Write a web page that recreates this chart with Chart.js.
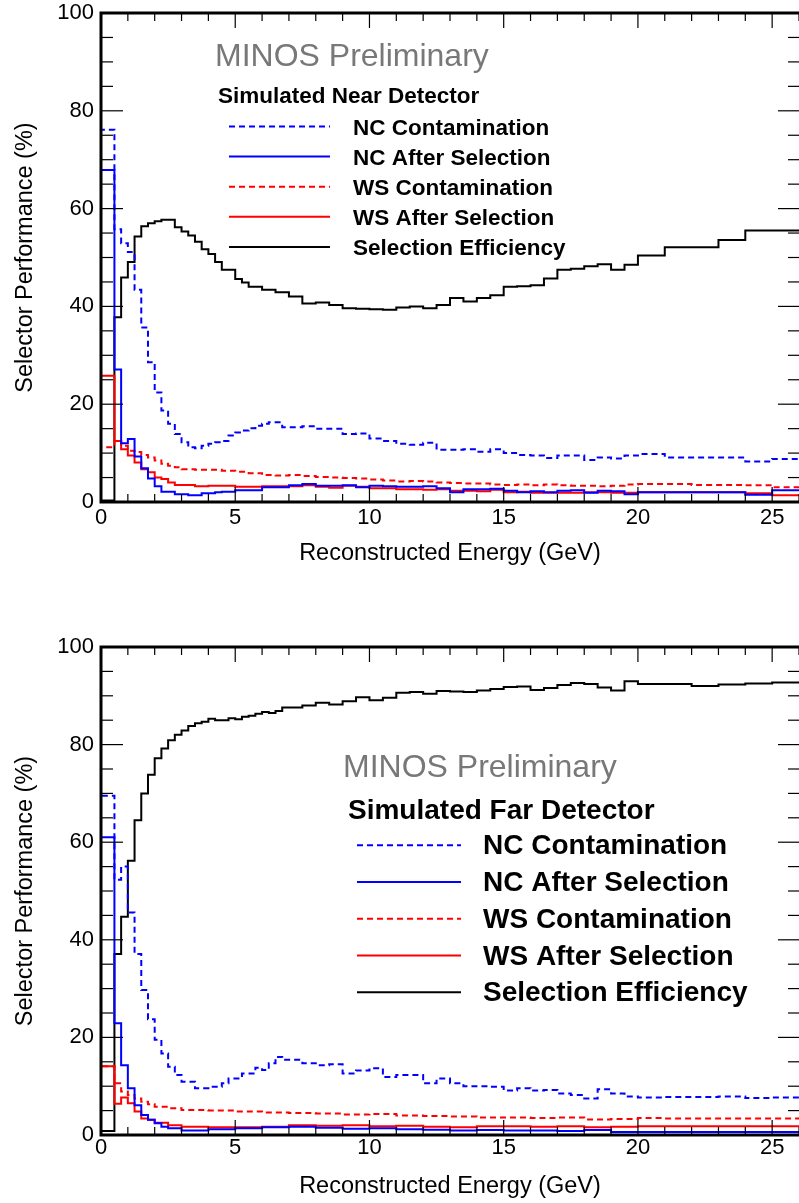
<!DOCTYPE html>
<html>
<head>
<meta charset="utf-8">
<script src="https://cdn.jsdelivr.net/npm/chart.js@4.4.1/dist/chart.umd.min.js"></script>
<style>
  body { margin: 0; background: #fff; }
  canvas { position: absolute; left: 0; }
  #nearChart { top: 0; }
  #farChart { top: 600px; }
</style>
</head>
<body>
<canvas id="nearChart" width="799" height="600"></canvas>
<canvas id="farChart" width="799" height="603"></canvas>
<script>
const FONT = '"Liberation Sans", Arial, Helvetica, sans-serif';

// bin edges (GeV), variable width like the ROOT histos
const binEdges = [0, 0.5, 0.75, 1, 1.25, 1.5, 1.75, 2, 2.25, 2.5, 2.75, 3, 3.25, 3.5, 3.75, 4,
  4.25, 4.5, 4.75, 5, 5.25, 5.5, 5.75, 6, 6.25, 6.5, 6.75, 7, 7.5, 8, 8.5, 9, 9.5, 10, 10.5,
  11, 11.5, 12, 12.5, 13, 13.5, 14, 14.5, 15, 15.5, 16, 16.5, 17, 17.5, 18, 18.5, 19, 19.5,
  20, 21, 22, 23, 24, 25, 26];

// ---- Near detector (%) ----
const nearNcCont = [76.1, 55.8, 52.9, 51.1, 43.4, 35.7, 28.6, 22.4, 18.7, 16.0, 13.9, 12.2, 11.2, 11.0,
  11.5, 11.9, 12.2, 12.5, 13.6, 14.2, 14.6, 15.1, 15.6, 16.0, 16.3, 16.3, 15.3,
  15.3, 15.5, 15.0, 15.0, 13.9, 14.0, 13.0, 12.5, 11.9, 11.7, 12.1, 10.7, 10.7, 10.8, 10.3, 10.8,
  10.0, 9.6, 9.5, 9.0, 9.5, 9.5, 8.6, 9.1, 8.9, 9.5,
  9.8, 9.1, 9.1, 9.1, 8.3, 8.8];
const nearNcSel = [67.9, 27.1, 12.0, 12.9, 9.3, 6.9, 4.8, 3.2, 2.1, 2.1, 1.6, 1.6, 1.4, 1.4,
  1.8, 1.8, 2.0, 2.1, 2.1, 2.4, 2.4, 2.4, 2.4, 3.0, 3.0, 3.0, 3.0,
  3.4, 3.7, 3.3, 3.3, 3.4, 3.0, 3.3, 3.2, 3.1, 3.1, 3.2, 2.8, 2.0, 2.6, 2.6, 2.7,
  2.3, 2.0, 2.2, 2.0, 2.3, 2.4, 1.9, 2.3, 2.2, 1.6,
  2.0, 2.0, 2.0, 2.0, 1.5, 2.4];
const nearWsCont = [11.2, 12.5, 11.5, 10.5, 10.2, 9.6, 9.1, 8.5, 7.8, 7.4, 7.1, 6.7, 6.7, 6.6,
  6.6, 6.6, 6.6, 6.4, 6.4, 6.2, 6.2, 5.9, 5.9, 5.5, 5.5, 5.4, 5.4,
  5.5, 5.3, 5.1, 5.0, 4.9, 4.8, 4.6, 4.4, 4.2, 4.3, 4.2, 4.0, 3.9, 3.8, 3.8, 3.6,
  3.5, 3.6, 3.4, 3.6, 3.4, 3.3, 3.3, 3.2, 3.3, 3.6,
  3.7, 3.7, 3.5, 3.5, 3.4, 3.0];
const nearWsSel = [25.8, 12.5, 10.8, 9.5, 8.1, 6.7, 6.1, 5.0, 4.7, 4.0, 3.5, 3.5, 3.5, 3.2,
  3.2, 3.3, 3.3, 3.3, 3.3, 3.1, 3.1, 3.1, 3.1, 3.2, 3.2, 3.2, 3.2,
  3.2, 3.4, 3.1, 2.9, 3.3, 3.1, 2.8, 2.8, 2.6, 2.6, 2.5, 2.6, 2.3, 2.3, 2.2, 2.5,
  2.0, 2.1, 1.9, 1.9, 1.9, 1.9, 2.0, 2.0, 1.9, 1.9,
  2.0, 2.0, 2.0, 2.0, 1.8, 1.4];
const nearEff = [0.3, 37.8, 45.9, 49.1, 54.3, 56.4, 57.0, 57.4, 57.7, 57.7, 56.2, 55.3, 54.5, 53.2,
  51.7, 50.7, 49.1, 47.5, 47.5, 45.6, 44.9, 44.0, 44.0, 43.4, 43.4, 42.9, 42.9,
  42.0, 40.6, 40.8, 40.3, 39.6, 39.5, 39.4, 39.3, 39.8, 40.0, 39.6, 40.3, 41.7, 41.0, 41.7, 42.3,
  44.0, 44.1, 44.3, 45.7, 47.5, 47.7, 48.2, 48.6, 47.5, 48.5,
  50.4, 52.1, 52.1, 53.6, 55.5, 55.5];

// ---- Far detector (%) ----
const farNcCont = [69.5, 52.3, 55.0, 45.6, 37.1, 29.7, 23.7, 19.5, 16.7, 14.0, 12.3, 10.9, 10.9, 9.6,
  9.6, 9.9, 9.9, 10.6, 11.6, 11.6, 12.6, 12.6, 13.8, 13.3, 14.7, 16.0, 15.4,
  15.4, 14.7, 14.3, 14.5, 12.6, 13.2, 13.7, 11.9, 12.3, 12.3, 10.6, 11.6, 10.6, 10.0, 10.0, 9.9,
  9.1, 9.6, 9.1, 9.2, 8.5, 8.2, 7.5, 9.4, 8.5, 7.9,
  7.7, 7.8, 7.8, 7.9, 7.6, 7.7];
const farNcSel = [61.0, 22.9, 14.3, 9.6, 6.1, 4.1, 3.1, 2.4, 1.7, 1.4, 1.4, 0.9, 0.9, 0.9,
  0.9, 1.2, 1.2, 1.2, 1.2, 1.4, 1.4, 1.4, 1.4, 1.6, 1.6, 1.6, 1.6,
  1.7, 1.7, 1.5, 1.5, 1.3, 1.3, 1.4, 1.4, 1.2, 1.2, 1.1, 1.1, 0.9, 0.9, 1.0, 1.0,
  0.9, 0.9, 0.9, 0.9, 0.8, 0.8, 1.0, 1.0, 0.6, 0.6,
  0.6, 0.6, 0.6, 0.6, 0.6, 0.6];
const farWsCont = [14.1, 10.6, 8.9, 8.2, 7.5, 6.8, 6.3, 5.8, 5.8, 5.5, 5.5, 5.1, 5.1, 5.1,
  5.1, 5.0, 5.0, 5.0, 5.0, 4.8, 4.8, 4.8, 4.8, 4.6, 4.6, 4.6, 4.6,
  4.5, 4.5, 4.4, 4.4, 4.2, 4.2, 4.3, 4.3, 4.0, 4.0, 3.9, 3.9, 3.8, 3.8, 3.6, 3.6,
  3.6, 3.6, 3.5, 3.5, 3.6, 3.6, 3.2, 3.2, 3.3, 3.3,
  3.5, 3.4, 3.4, 3.4, 3.4, 3.4];
const farWsSel = [14.1, 6.4, 7.7, 6.5, 4.8, 3.4, 3.1, 2.5, 2.5, 2.0, 2.0, 1.7, 1.7, 1.7,
  1.7, 1.6, 1.6, 1.6, 1.6, 1.6, 1.6, 1.6, 1.6, 1.7, 1.7, 1.7, 1.7,
  2.0, 2.0, 1.9, 1.9, 2.0, 2.0, 1.8, 1.8, 1.9, 1.9, 1.7, 1.7, 1.6, 1.6, 1.8, 1.8,
  1.8, 1.8, 1.7, 1.7, 1.8, 1.8, 1.6, 1.6, 1.7, 1.7,
  1.8, 1.8, 1.8, 1.8, 1.8, 1.8];
const farEff = [0.8, 37.1, 44.7, 56.2, 64.5, 70.0, 73.8, 77.2, 79.2, 80.9, 82.0, 82.9, 83.8, 84.4,
  84.7, 85.3, 85.0, 85.0, 85.4, 85.2, 85.7, 85.9, 86.3, 86.7, 86.5, 86.9, 87.6,
  87.6, 88.0, 88.6, 88.2, 88.9, 89.7, 89.1, 89.6, 90.6, 90.8, 90.4, 91.0, 90.9, 90.8, 91.1, 91.4,
  91.8, 91.9, 91.2, 91.6, 92.2, 92.6, 92.4, 91.7, 91.1, 93.0,
  92.4, 92.4, 92.0, 92.3, 92.5, 92.7];

const seriesNames = ['NC Contamination', 'NC After Selection', 'WS Contamination', 'WS After Selection', 'Selection Efficiency'];
const seriesColors = ['#0000ff', '#0000ff', '#ff0000', '#ff0000', '#000000'];
const seriesDashed = [true, false, true, false, false];

// histogram -> points for a stepped line (start from the baseline like ROOT does)
const toSteps = (vals) => {
    const pts = [{ x: binEdges[0], y: 0 }];
    for (let i = 0; i < vals.length; i++) {
        pts.push({ x: binEdges[i], y: vals[i] });
    }
    pts.push({ x: binEdges[vals.length], y: vals[vals.length - 1] });
    return pts;
}

const makeDatasets = (list) => list.map((vals, i) => ({
    label: seriesNames[i],
    data: toSteps(vals),
    borderColor: seriesColors[i],
    borderWidth: 2,
    borderDash: seriesDashed[i] ? [6, 4] : [],
    stepped: true,
    pointRadius: 0,
    fill: false
}));

// ROOT-ish frame, inner ticks and the text boxes
const rootFrame = {
    id: 'rootFrame',
    afterDatasetsDraw(chart, args, opts) {
        const ctx = chart.ctx;
        const a = chart.chartArea;
        const xs = chart.scales.x, ys = chart.scales.y;
        const seg = (x1, y1, x2, y2) => { ctx.beginPath(); ctx.moveTo(x1, y1); ctx.lineTo(x2, y2); ctx.stroke(); };
        ctx.save();
        ctx.strokeStyle = '#000';
        ctx.lineWidth = 1.2;
        for (let v = xs.min; v <= xs.max; v++) {
            const px = xs.getPixelForValue(v);
            const len = v % 5 === 0 ? 15 : 8;
            seg(px, a.bottom, px, a.bottom - len);
            seg(px, a.top, px, a.top + len);
        }
        for (let v = ys.min; v <= ys.max; v += 5) {
            const py = ys.getPixelForValue(v);
            const len = v % 20 === 0 ? 22 : 12;
            seg(a.left, py, a.left + len, py);
            seg(a.right + 1, py, a.right + 1 - len, py);
        }
        // frame, right side falls outside the picture
        ctx.lineWidth = 3;
        ctx.beginPath();
        ctx.moveTo(a.right + 3, a.top);
        ctx.lineTo(a.left, a.top);
        ctx.lineTo(a.left, a.bottom);
        ctx.lineTo(a.right + 3, a.bottom);
        ctx.stroke();

        // axis titles
        ctx.fillStyle = '#000';
        ctx.font = '23.5px ' + FONT;
        ctx.textAlign = 'center';
        ctx.textBaseline = 'alphabetic';
        ctx.fillText('Reconstructed Energy (GeV)', (a.left + a.right) / 2, opts.xTitleY);
        ctx.save();
        ctx.translate(opts.yTitleX, (a.top + a.bottom) / 2);
        ctx.rotate(-Math.PI / 2);
        ctx.fillText('Selector Performance (%)', 0, 0);
        ctx.restore();

        // MINOS Preliminary + legend
        ctx.textAlign = 'left';
        ctx.fillStyle = '#787878';
        ctx.font = opts.mark.size + 'px ' + FONT;
        ctx.fillText('MINOS Preliminary', opts.mark.x, opts.mark.y);
        ctx.fillStyle = '#000';
        ctx.font = 'bold ' + opts.header.size + 'px ' + FONT;
        ctx.fillText(opts.header.text, opts.header.x, opts.header.y);
        const L = opts.entries;
        ctx.font = 'bold ' + L.size + 'px ' + FONT;
        chart.data.datasets.forEach((ds, i) => {
            const ly = L.y0 + i * L.dy;
            ctx.strokeStyle = ds.borderColor;
            ctx.lineWidth = 2;
            ctx.setLineDash(ds.borderDash);
            seg(L.x1, ly, L.x2, ly);
            ctx.setLineDash([]);
            ctx.fillText(ds.label, L.textX, ly + L.textDy);
        });
        ctx.restore();
    }
};

const makePanel = (id, list, p) => {
    const ctx = document.getElementById(id).getContext('2d');
    const datasets = makeDatasets(list);
    return new Chart(ctx, {
        type: 'line',
        data: { datasets },
        options: {
            responsive: false,
            animation: false,
            devicePixelRatio: 1,
            events: [],
            layout: { padding: { top: p.top, right: 0, left: 0, bottom: 0 } },
            plugins: {
                legend: { display: false },
                tooltip: { enabled: false },
                rootFrame: p.frame
            },
            scales: {
                x: {
                    type: 'linear', min: 0, max: 26,
                    grid: { display: false, drawTicks: false },
                    border: { display: false },
                    ticks: { stepSize: 5, includeBounds: false, padding: p.xPad, color: '#000', font: { family: FONT, size: 22 } },
                    afterFit: (s) => { s.height = p.xAxisH; s.paddingLeft = 0; s.paddingRight = 0; }
                },
                y: {
                    min: 0, max: 100,
                    grid: { display: false, drawTicks: false },
                    border: { display: false },
                    ticks: { stepSize: 20, padding: 7, color: '#000', font: { family: FONT, size: 22 } },
                    afterFit: (s) => { s.width = 101; s.paddingTop = 0; s.paddingBottom = 0; }
                }
            }
        },
        plugins: [rootFrame]
    });
}

makePanel('nearChart', [nearNcCont, nearNcSel, nearWsCont, nearWsSel, nearEff], {
    top: 13, xAxisH: 98, xPad: 3,
    frame: {
        xTitleY: 560, yTitleX: 32,
        mark: { x: 215, y: 66, size: 32 },
        header: { text: 'Simulated Near Detector', x: 218, y: 103, size: 22.5 },
        entries: { x1: 229, x2: 330, textX: 353, y0: 126.5, dy: 30.1, textDy: 8.5, size: 22.5 }
    }
});

makePanel('farChart', [farNcCont, farNcSel, farWsCont, farWsSel, farEff], {
    top: 47, xAxisH: 68, xPad: 0,
    frame: {
        xTitleY: 593, yTitleX: 32,
        mark: { x: 343, y: 177, size: 32 },
        header: { text: 'Simulated Far Detector', x: 348, y: 219, size: 28 },
        entries: { x1: 357, x2: 461, textX: 483, y0: 245.3, dy: 36.75, textDy: 9, size: 28 }
    }
});
</script>
</body>
</html>
